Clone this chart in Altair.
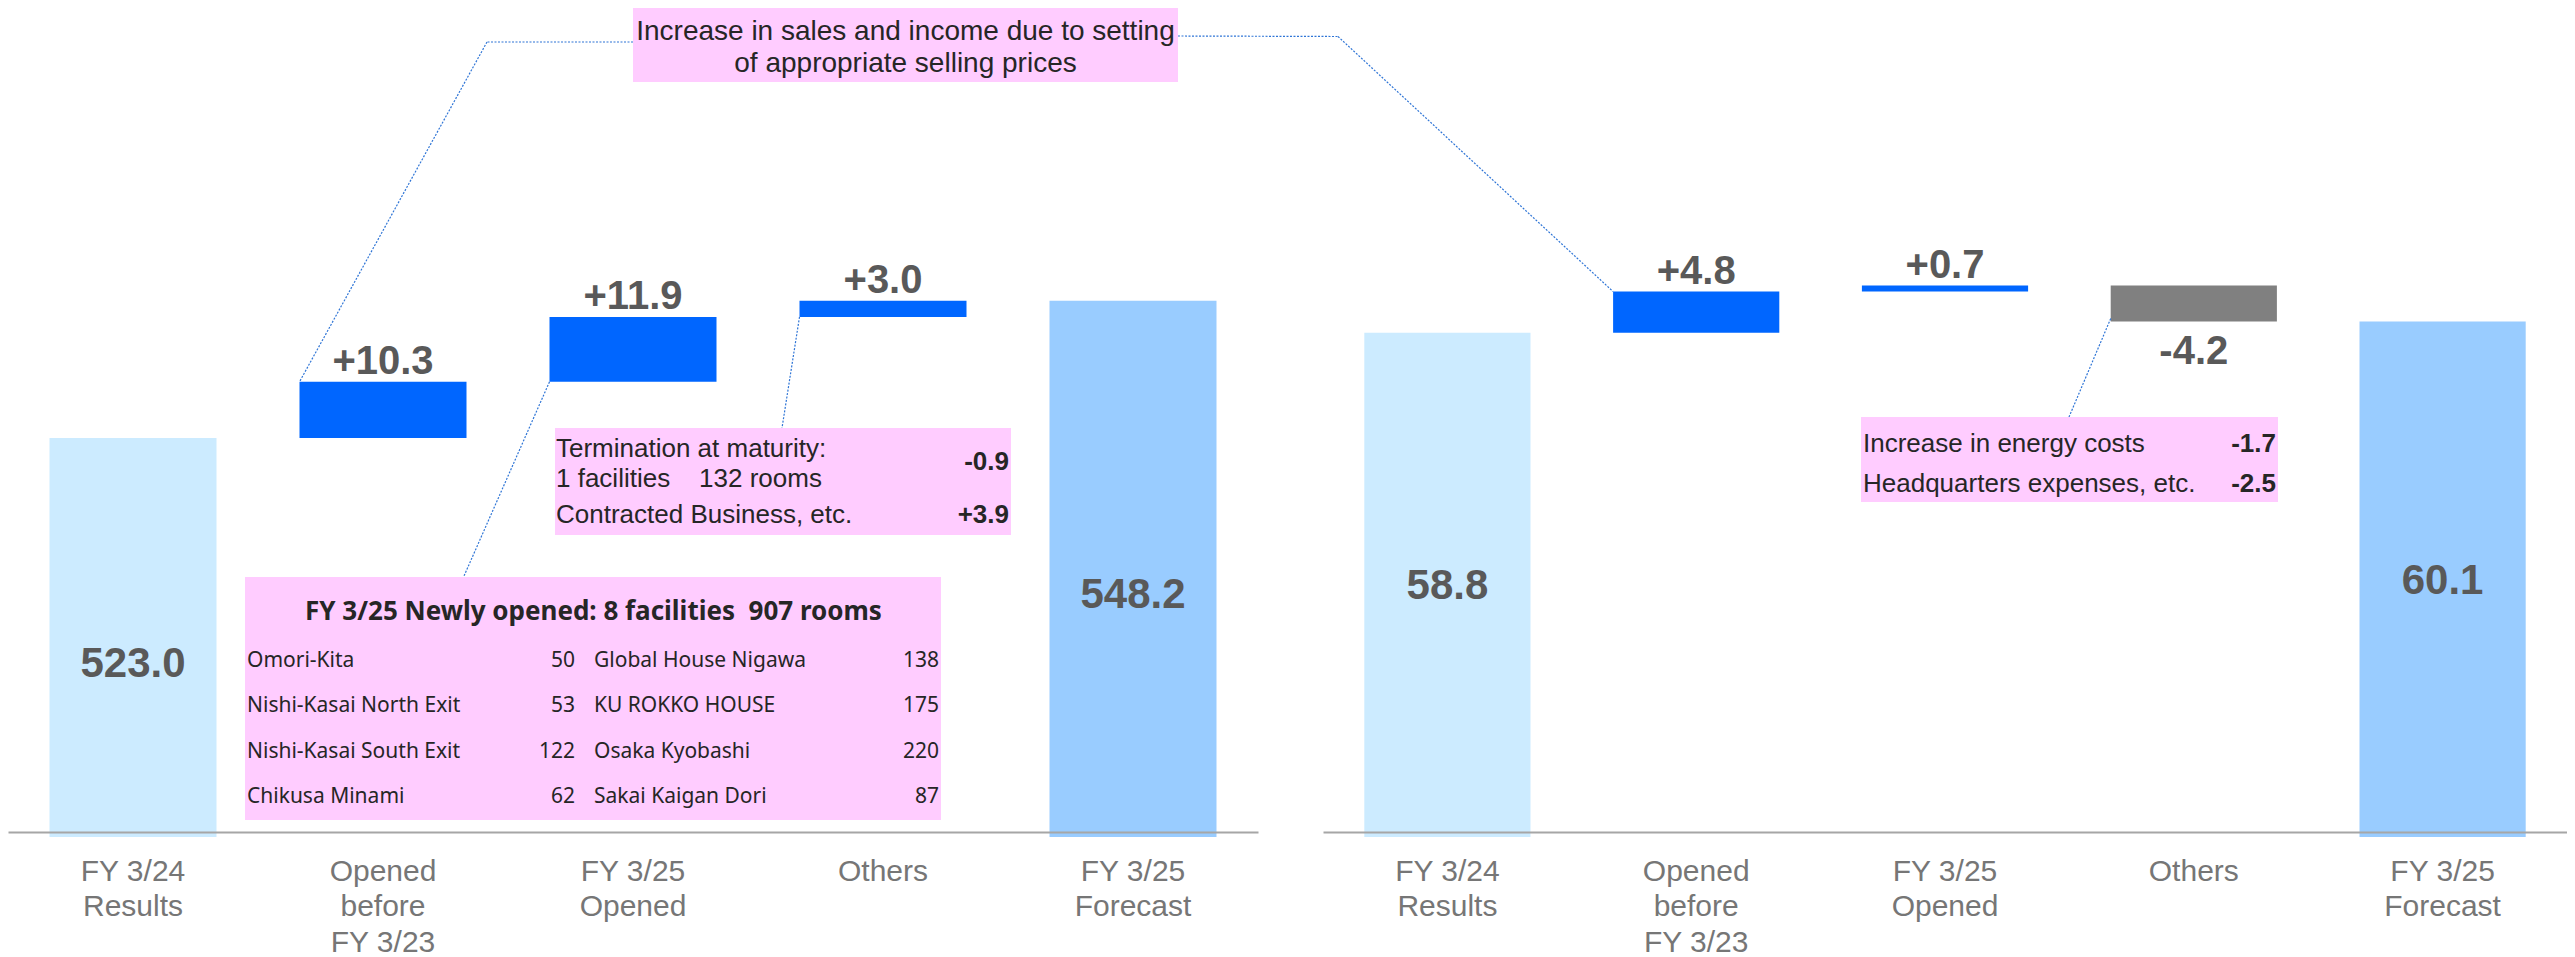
import altair as alt
import pandas as pd

# ---------------- data ----------------
categories = ["FY 3/24|Results", "Opened|before|FY 3/23", "FY 3/25|Opened", "Others", "FY 3/25|Forecast"]

sales_start = 523.0
sales_changes = [10.3, 11.9, 3.0]
sales_end = 548.2

income_start = 58.8
income_changes = [4.8, 0.7, -4.2]
income_end = 60.1

top_note = ["Increase in sales and income due to setting", "of appropriate selling prices"]
termination_lines = ["Termination at maturity:", "1 facilities\u00a0\u00a0\u00a0\u00a0132 rooms"]
termination_value = "-0.9"
contracted_label = "Contracted Business, etc."
contracted_value = "+3.9"
cost_labels = ["Increase in energy costs", "Headquarters expenses, etc."]
cost_values = ["-1.7", "-2.5"]
new_title = "FY 3/25 Newly opened: 8 facilities\u00a0\u00a0907 rooms"
new_names_1 = ["Omori-Kita", "Nishi-Kasai North Exit", "Nishi-Kasai South Exit", "Chikusa Minami"]
new_rooms_1 = [50, 53, 122, 62]
new_names_2 = ["Global House Nigawa", "KU ROKKO HOUSE", "Osaka Kyobashi", "Sakai Kaigan Dori"]
new_rooms_2 = [138, 175, 220, 87]

# ---------------- layout / style ----------------
ARIAL = "Liberation Sans, Arial, sans-serif"
NOTO = "Noto Sans, Liberation Sans, sans-serif"
H = 824
LEFT_W, RIGHT_W, GAP = 1250, 1244, 65
R_OFF = LEFT_W + GAP
PAD_IN = 0.332
L_DOM = (450.7, 450.7 + H / 5.45)
R_DOM = (0.54, 0.54 + H / 8.57)
BOX = "#FFCCFF"
LINE = "#2F75D6"
TXT = "#262626"
VAL = "#595959"


def band_left(i, W):
    step = W / len(categories)
    return step * PAD_IN / 2 + i * step


def ypix(v, dom):
    return H * (dom[1] - v) / (dom[1] - dom[0])


def waterfall(start, changes, end):
    rows = [dict(cat=categories[0], lo=None, hi=start, kind="start", text=f"{start:.1f}")]
    level = start
    for c, ch in zip(categories[1:4], changes):
        new = level + ch
        rows.append(dict(cat=c, lo=min(level, new), hi=max(level, new),
                         kind="up" if ch >= 0 else "down", text=f"{ch:+.1f}"))
        level = new
    rows.append(dict(cat=categories[4], lo=None, hi=end, kind="end", text=f"{end:.1f}"))
    return pd.DataFrame(rows)


def txt(s, x, y, size, align="left", bold=False, color=TXT, font=ARIAL):
    return alt.Chart(pd.DataFrame({"t": [s]})).mark_text(
        align=align, baseline="middle", fontSize=size,
        fontWeight="bold" if bold else "normal", color=color, font=font
    ).encode(text="t:N", x=alt.value(x), y=alt.value(y))


def box(x1, y1, x2, y2):
    return alt.Chart(pd.DataFrame({"k": [0]})).mark_rect(color=BOX).encode(
        x=alt.value(x1), x2=alt.value(x2), y=alt.value(y1), y2=alt.value(y2))


def seg(x1, y1, x2, y2):
    return alt.Chart(pd.DataFrame({"k": [0]})).mark_rule(
        color=LINE, strokeWidth=1.2, strokeDash=[2, 1.5]
    ).encode(x=alt.value(x1), y=alt.value(y1), x2=alt.value(x2), y2=alt.value(y2))


def panel(df, dom, W, total_dy, extras):
    xenc = alt.X(
        "cat:N", sort=categories,
        scale=alt.Scale(paddingInner=PAD_IN, paddingOuter=PAD_IN / 2),
        axis=alt.Axis(title=None, labelAngle=0, ticks=False, domainColor="#A6A6A6",
                      domainWidth=2, labelFont=ARIAL, labelFontSize=30,
                      labelColor="#767676", labelLineHeight=35.5, labelPadding=24,
                      labelLimit=0, labelOverlap=False, zindex=1,
                      labelExpr="split(datum.label, '|')"),
    )
    yscale = alt.Scale(domain=list(dom), nice=False, zero=False)
    color = alt.Color("kind:N", scale=alt.Scale(domain=["start", "up", "down", "end"],
                                                range=["#CCEBFF", "#0066FF", "#808080", "#99CCFF"]),
                      legend=None)
    # totals start 5px below the axis line
    floor_val = dom[0] - 5 * (dom[1] - dom[0]) / H
    base = alt.Chart(df)
    totals = base.transform_filter("datum.kind == 'start' || datum.kind == 'end'")
    deltas = base.transform_filter("datum.kind == 'up' || datum.kind == 'down'")
    total_bars = totals.transform_calculate(floor=f"{floor_val}").mark_bar().encode(
        x=xenc, y=alt.Y("hi:Q", scale=yscale, axis=None), y2="floor:Q", color=color)
    delta_bars = deltas.mark_bar().encode(
        x=xenc, y=alt.Y("hi:Q", scale=yscale, axis=None), y2="lo:Q", color=color)
    up_labels = base.transform_filter("datum.kind == 'up'").mark_text(
        baseline="bottom", fontSize=40, fontWeight="bold", color=VAL, font=ARIAL
    ).encode(x=xenc, y=alt.Y("hi:Q", scale=yscale, axis=None), text="text:N")
    down_labels = base.transform_filter("datum.kind == 'down'").mark_text(
        baseline="top", dy=10, fontSize=40, fontWeight="bold", color=VAL, font=ARIAL
    ).encode(x=xenc, y=alt.Y("lo:Q", scale=yscale, axis=None), text="text:N")
    total_labels = totals.transform_calculate(mid=f"(datum.hi + {dom[0]}) / 2").mark_text(
        baseline="middle", dy=total_dy, fontSize=42, fontWeight="bold", color=VAL, font=ARIAL
    ).encode(x=xenc, y=alt.Y("mid:Q", scale=yscale, axis=None), text="text:N")
    return alt.layer(total_bars, delta_bars, *extras, up_labels, down_labels, total_labels
                     ).properties(width=W, height=H)


sales_df = waterfall(sales_start, sales_changes, sales_end)
income_df = waterfall(income_start, income_changes, income_end)

s1 = sales_start + sales_changes[0]
s2 = s1 + sales_changes[1]
i1 = income_start + income_changes[0]
i3 = income_end

# ---- left panel annotations ----
left_extras = [
    box(625, 0, 1170, 74),
    txt(top_note[0], 897.5, 23.7, 28, align="center"),
    txt(top_note[1], 897.5, 55.7, 28, align="center"),
    seg(625, 34, 479, 34),
    seg(479, 34, band_left(1, LEFT_W), ypix(s1, L_DOM)),
    seg(1170, 28, 1330, 28.5),
    seg(1330, 28.5, R_OFF + band_left(1, RIGHT_W), ypix(i1, R_DOM)),
    seg(band_left(2, LEFT_W), ypix(s1, L_DOM), 456, 568),
    seg(band_left(3, LEFT_W), ypix(s2, L_DOM), 774, 420),
    box(547, 420, 1003, 527),
    txt(termination_lines[0], 548, 440.5, 26),
    txt(termination_lines[1], 548, 470.5, 26),
    txt(termination_value, 1001, 453.5, 26, align="right", bold=True),
    txt(contracted_label, 548, 506.5, 26),
    txt(contracted_value, 1001, 506.5, 26, align="right", bold=True),
    box(237, 569, 933, 812),
    txt(new_title, 585.5, 603.5, 26, align="center", bold=True, font=NOTO),
]
row_y = [653.3, 698.3, 744.3, 789.3]
for k in range(4):
    left_extras += [
        txt(new_names_1[k], 239, row_y[k], 21, font=NOTO),
        txt(str(new_rooms_1[k]), 567, row_y[k], 21, align="right", font=NOTO),
        txt(new_names_2[k], 586, row_y[k], 21, font=NOTO),
        txt(str(new_rooms_2[k]), 931, row_y[k], 21, align="right", font=NOTO),
    ]

# ---- right panel annotations ----
right_extras = [
    seg(band_left(3, RIGHT_W), ypix(i3, R_DOM) - 3, 746, 409),
    box(538, 409, 955, 494),
    txt(cost_labels[0], 540, 435.5, 26),
    txt(cost_values[0], 953, 435.5, 26, align="right", bold=True),
    txt(cost_labels[1], 540, 475.5, 26),
    txt(cost_values[1], 953, 475.5, 26, align="right", bold=True),
]

left = panel(sales_df, L_DOM, LEFT_W, 29, left_extras)
right = panel(income_df, R_DOM, RIGHT_W, 4, right_extras)

chart = alt.hconcat(left, right, spacing=GAP, bounds="flush").properties(
    padding=0, background="white"
).configure_view(stroke=None)

chart.save("out.html", embed_options={"renderer": "svg", "actions": False})
